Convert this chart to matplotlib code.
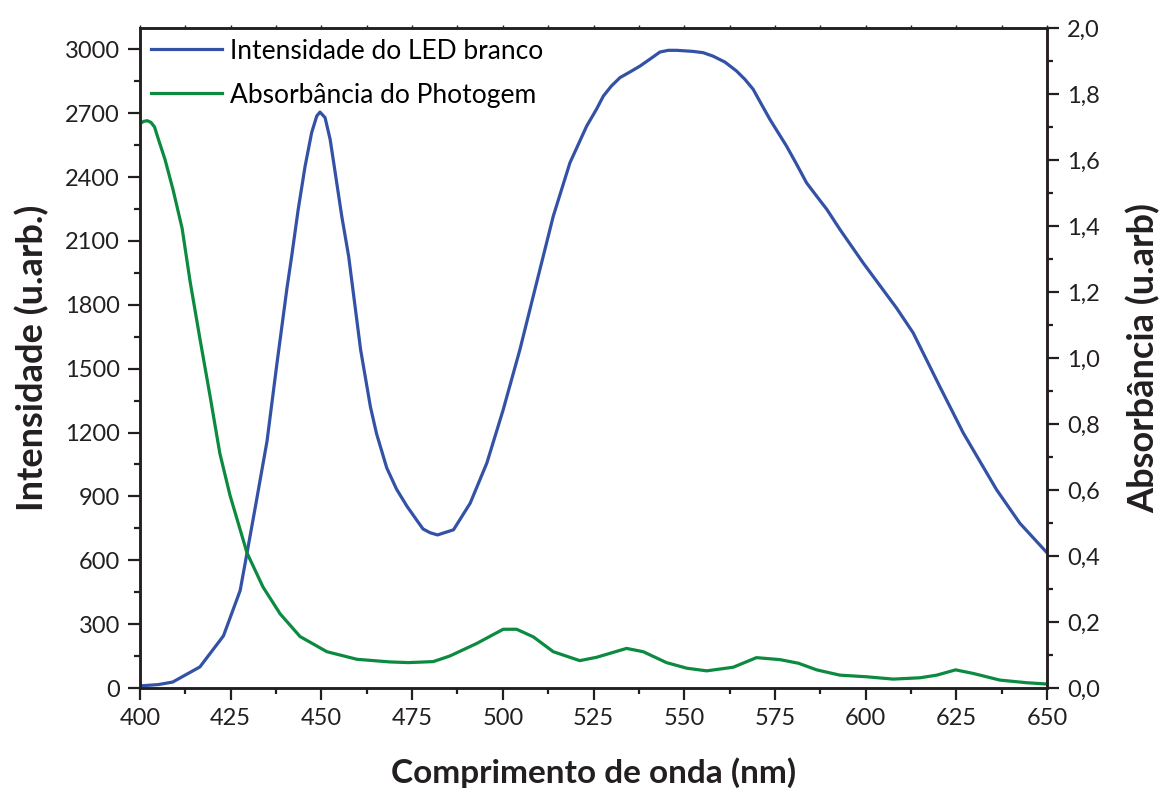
import matplotlib
matplotlib.use('Agg')
import matplotlib.pyplot as plt
from matplotlib.ticker import MultipleLocator, FuncFormatter

plt.rcParams['font.family'] = ['Lato', 'DejaVu Sans']

# LED emission spectrum (left axis)
led_nm = [400, 405, 409, 416.5, 423, 427.6, 429.5, 432, 435, 437.7, 440.5, 441.8,
          443.6, 445.5, 447.3, 448.7, 449.6, 451, 452.4, 453.8, 455.6, 457.5,
          460.8, 463.5, 465.2, 468, 470.7, 473.6, 476.2, 478, 480, 482,
          486.4, 491, 495.6, 500.1, 504.7, 509.3, 513.9, 518.5, 523.1, 525.8,
          527.7, 529.9, 532.3, 535, 537.8, 540.5, 543.3, 545.6, 547.9, 552.4,
          555.2, 557.9, 561.2, 564.4, 566.7, 569, 571.3, 573.6, 575.9, 578.2,
          581, 583.7, 586.5, 589.3, 592.9, 599.3, 608.5, 613.1, 620.4, 626.9,
          636.1, 642.5, 650]
led_int = [10, 16, 28, 99, 245, 458, 635, 871, 1159, 1519, 1878, 2028,
           2248, 2451, 2608, 2686, 2705, 2679, 2577, 2420, 2216, 2028,
           1589, 1321, 1194, 1034, 934, 853, 790, 747, 729, 719,
           743, 868, 1057, 1307, 1589, 1903, 2216, 2467, 2639, 2718,
           2780, 2827, 2867, 2893, 2921, 2953, 2987, 2995, 2995, 2990,
           2984, 2968, 2940, 2898, 2859, 2812, 2741, 2671, 2608, 2545,
           2459, 2373, 2310, 2248, 2154, 1997, 1785, 1668, 1417, 1198,
           931, 774, 635]

# Photogem absorbance (right axis)
abs_nm = [400, 401, 402, 403, 404, 405, 406.9, 409.1, 411.6, 413.8, 416.5, 419.3, 422,
          424.8, 429.5, 433.9, 438.6, 444.1, 451.5, 459.8, 468.9, 474, 480.8,
          485.4, 492.8, 500.1, 503.8, 508.4, 513.9, 521.2, 525.8, 534.1, 538.7,
          545.1, 550.7, 556.2, 563.5, 569.9, 576.4, 581.5, 586.5, 592.9, 600.3,
          607.6, 615, 619.6, 624.8, 629.7, 637, 644.4, 650]
abs_val = [1.710, 1.717, 1.719, 1.714, 1.700, 1.665, 1.601, 1.51, 1.393, 1.232, 1.059, 0.885, 0.711,
           0.584, 0.409, 0.306, 0.225, 0.156, 0.11, 0.087, 0.079, 0.077, 0.080,
           0.097, 0.135, 0.178, 0.178, 0.155, 0.11, 0.083, 0.093, 0.12, 0.11,
           0.077, 0.060, 0.052, 0.063, 0.092, 0.086, 0.075, 0.055, 0.039, 0.034,
           0.027, 0.031, 0.039, 0.055, 0.044, 0.024, 0.016, 0.012]

blue = '#3352A6'
green = '#0B8A40'
ink = '#231F20'

fig = plt.figure(figsize=(11.63, 7.9), dpi=100)
ax = fig.add_axes([0.1204, 0.1291, 0.7799, 0.8355])
ax2 = ax.twinx()

l1, = ax.plot(led_nm, led_int, color=blue, lw=2.3, solid_joinstyle='round',
              label='Intensidade do LED branco')
l2, = ax2.plot(abs_nm, abs_val, color=green, lw=2.3, solid_joinstyle='round',
               label='Absorbância do Photogem')

ax.set_xlim(400, 650)
ax.set_ylim(0, 3100)
ax2.set_ylim(0, 2.0)

ax.xaxis.set_major_locator(MultipleLocator(25))
ax.xaxis.set_minor_locator(MultipleLocator(12.5))
ax.yaxis.set_major_locator(MultipleLocator(300))
ax.yaxis.set_minor_locator(MultipleLocator(150))
ax2.yaxis.set_major_locator(MultipleLocator(0.2))
ax2.yaxis.set_minor_locator(MultipleLocator(0.1))
ax2.yaxis.set_major_formatter(FuncFormatter(lambda v, p: f'{v:.1f}'.replace('.', ',')))

for a in (ax, ax2):
    for s in a.spines.values():
        s.set_linewidth(1.8)
        s.set_color(ink)

ax.tick_params(axis='both', which='major', direction='out', length=8.5, width=1.6,
               labelsize=17, colors=ink, pad=6)
ax.tick_params(axis='both', which='minor', direction='out', length=4.5, width=1.6, colors=ink)
# tiny marks along the top spine
ax.tick_params(axis='x', which='both', top=True, labeltop=False)
for t in ax.xaxis.get_major_ticks() + ax.xaxis.get_minor_ticks():
    t.tick2line.set_markersize(2)
    t.tick2line.set_markeredgewidth(1.0)
ax2.tick_params(axis='y', which='major', direction='out', length=8.5, width=1.6,
                labelsize=17, colors=ink, pad=6)
ax2.tick_params(axis='y', which='minor', direction='out', length=4.5, width=1.6, colors=ink)

ax.set_xlabel('Comprimento de onda (nm)', fontsize=24, fontweight='bold', color=ink, labelpad=20)
ax.set_ylabel('Intensidade (u.arb.)', fontsize=26, fontweight='bold', color=ink, labelpad=11)
ax2.set_ylabel('Absorbância (u.arb)', fontsize=26, fontweight='bold', color=ink, labelpad=19)

ax.legend(handles=[l1, l2], loc='upper left', frameon=False, fontsize=19,
          handlelength=2.7, handletextpad=0.3, labelspacing=0.72,
          borderaxespad=0.0, bbox_to_anchor=(0.0, 1.0))

fig.savefig('out.png', dpi=100)
plt.close(fig)
